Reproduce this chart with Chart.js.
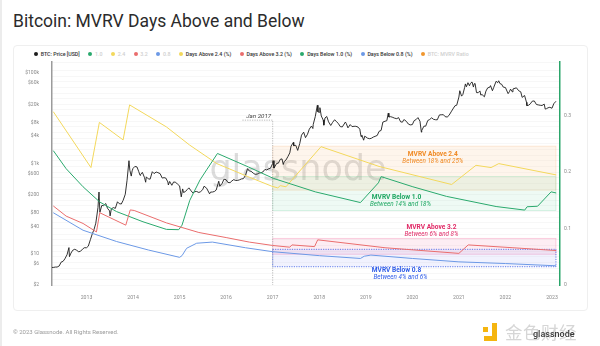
<!DOCTYPE html>
<html>
<head>
<meta charset="utf-8">
<script src="https://cdn.jsdelivr.net/npm/chart.js@4.4.0/dist/chart.umd.min.js"></script>
<style>
  body { margin: 0; width: 600px; height: 346px; background: #fff; position: relative; overflow: hidden; font-family: Roboto, sans-serif; }
  #edge { position: absolute; left: 0; top: 0; width: 2px; height: 346px; background: #ececec; }
  #title { position: absolute; left: 13px; top: 9px; font-size: 17.5px; line-height: 24px; color: #2b2b2b; white-space: nowrap; }
  #card { position: absolute; left: 13px; top: 45px; width: 575px; height: 266px; border: 1px solid #efefef; border-radius: 4px; box-sizing: border-box; }
  #legend { position: absolute; left: 34px; top: 49.5px; height: 8px; display: flex; align-items: center; font-size: 5.3px; font-weight: 500; line-height: 8px; white-space: nowrap; }
  #legend .item { display: flex; align-items: center; margin-right: 8.5px; }
  #legend .dot { width: 4px; height: 4px; border-radius: 50%; margin-right: 2.7px; }
  #chart { position: absolute; left: 0; top: 0; }
  #footer { position: absolute; left: 13px; top: 328px; font-size: 6px; line-height: 8px; color: #9a9a9a; white-space: nowrap; }
  #logo { position: absolute; left: 483px; top: 322px; width: 110px; height: 22px; }
  #logo .sq { position: absolute; background: #f5b50f; }
  #logo .cn { position: absolute; left: 22px; top: -1px; font-family: "Noto Sans CJK SC", sans-serif; font-size: 17.5px; line-height: 22px; color: #d6d6d6; letter-spacing: 0.5px; }
  #logo .gn { position: absolute; left: 50px; top: 7px; font-size: 9px; line-height: 10px; font-weight: 500; color: #3a3a3a; }
</style>
</head>
<body>
<div id="edge"></div>
<div id="title">Bitcoin: MVRV Days Above and Below</div>
<div id="card"></div>
<div id="legend"></div>
<canvas id="chart" width="600" height="346"></canvas>
<div id="footer">© 2023 Glassnode. All Rights Reserved.</div>
<div id="logo">
  <div class="sq" style="left:0;top:5px;width:5px;height:5px"></div>
  <div class="sq" style="left:9px;top:1px;width:5px;height:18px"></div>
  <div class="sq" style="left:1px;top:14px;width:13px;height:5px"></div>
  <div class="cn">金色财经</div>
  <div class="gn">glassnode</div>
</div>
<script>
// ---- data ----
const yearTicks = [2013, 2014, 2015, 2016, 2017, 2018, 2019, 2020, 2021, 2022, 2023];
const priceTicks = [2, 6, 10, 40, 80, 200, 600, 1000, 4000, 8000, 20000, 60000, 100000];
const priceTickLabels = ['$2', '$6', '$10', '$40', '$80', '$200', '$600', '$1k', '$4k', '$8k', '$20k', '$60k', '$100k'];
const ratioTickLabels = ['0', '0.1', '0.2', '0.3'];

const btcDates = [
  '2012-04-01','2012-04-15','2012-05-01','2012-05-15','2012-06-01','2012-06-15','2012-07-01','2012-07-15','2012-08-01','2012-08-16','2012-08-20','2012-09-01','2012-09-15','2012-10-01','2012-10-15','2012-11-01','2012-11-15','2012-12-01','2012-12-15',
  '2013-01-01','2013-01-15','2013-02-01','2013-02-15','2013-03-01','2013-03-15','2013-04-01','2013-04-09','2013-04-16','2013-05-01','2013-05-15','2013-06-01','2013-06-15','2013-07-01','2013-07-05','2013-07-15','2013-08-01','2013-08-15','2013-09-01','2013-09-15','2013-10-01','2013-10-15','2013-11-01','2013-11-15','2013-11-30','2013-12-07','2013-12-18','2013-12-25',
  '2014-01-01','2014-01-15','2014-02-01','2014-02-15','2014-02-25','2014-03-01','2014-03-15','2014-04-01','2014-04-10','2014-04-15','2014-05-01','2014-05-15','2014-06-01','2014-06-15','2014-07-01','2014-07-15','2014-08-01','2014-08-18','2014-09-01','2014-09-15','2014-10-01','2014-10-05','2014-10-15','2014-11-01','2014-11-15','2014-12-01','2014-12-15',
  '2015-01-01','2015-01-14','2015-01-25','2015-02-01','2015-02-15','2015-03-01','2015-03-15','2015-04-01','2015-04-15','2015-05-01','2015-05-15','2015-06-01','2015-06-15','2015-07-01','2015-07-12','2015-08-01','2015-08-24','2015-09-01','2015-09-15','2015-10-01','2015-10-15','2015-11-04','2015-11-12','2015-12-01','2015-12-15',
  '2016-01-01','2016-01-15','2016-02-01','2016-02-15','2016-03-01','2016-03-15','2016-04-01','2016-04-15','2016-05-01','2016-05-15','2016-06-01','2016-06-17','2016-07-01','2016-07-15','2016-08-01','2016-08-15','2016-09-01','2016-09-15','2016-10-01','2016-10-15','2016-11-01','2016-11-15','2016-12-01','2016-12-15',
  '2017-01-01','2017-01-04','2017-01-11','2017-01-15','2017-02-01','2017-02-15','2017-03-01','2017-03-15','2017-03-25','2017-04-01','2017-04-15','2017-05-01','2017-05-15','2017-05-25','2017-06-01','2017-06-12','2017-06-15','2017-07-01','2017-07-16','2017-08-01','2017-08-15','2017-09-01','2017-09-15','2017-10-01','2017-10-15','2017-11-01','2017-11-12','2017-11-15','2017-12-01','2017-12-17','2017-12-22',
  '2018-01-01','2018-01-06','2018-01-17','2018-02-01','2018-02-06','2018-02-15','2018-03-01','2018-03-15','2018-04-01','2018-04-15','2018-05-01','2018-05-15','2018-06-01','2018-06-15','2018-07-01','2018-07-25','2018-08-01','2018-08-14','2018-09-01','2018-09-15','2018-10-01','2018-10-15','2018-11-01','2018-11-15','2018-11-25','2018-12-01','2018-12-15','2018-12-24',
  '2019-01-01','2019-01-15','2019-02-01','2019-02-15','2019-03-01','2019-03-15','2019-04-01','2019-04-15','2019-05-01','2019-05-15','2019-06-01','2019-06-15','2019-06-26','2019-07-01','2019-07-15','2019-08-01','2019-08-15','2019-09-01','2019-09-15','2019-10-01','2019-10-15','2019-10-26','2019-11-01','2019-11-15','2019-12-01','2019-12-15',
  '2020-01-01','2020-01-15','2020-02-01','2020-02-14','2020-03-01','2020-03-12','2020-03-15','2020-04-01','2020-04-15','2020-05-01','2020-05-15','2020-06-01','2020-06-15','2020-07-01','2020-07-15','2020-08-01','2020-08-15','2020-09-01','2020-09-15','2020-10-01','2020-10-15','2020-11-01','2020-11-15','2020-12-01','2020-12-15',
  '2021-01-01','2021-01-08','2021-01-22','2021-02-01','2021-02-15','2021-02-21','2021-03-01','2021-03-13','2021-03-25','2021-04-01','2021-04-14','2021-04-25','2021-05-01','2021-05-08','2021-05-19','2021-06-01','2021-06-15','2021-06-22','2021-07-01','2021-07-20','2021-08-01','2021-08-15','2021-09-01','2021-09-06','2021-09-21','2021-10-01','2021-10-20','2021-11-01','2021-11-09','2021-11-20','2021-12-01','2021-12-15',
  '2022-01-01','2022-01-22','2022-02-01','2022-02-10','2022-02-24','2022-03-01','2022-03-28','2022-04-15','2022-05-01','2022-05-12','2022-05-31','2022-06-15','2022-06-18','2022-07-01','2022-07-15','2022-07-30','2022-08-15','2022-09-01','2022-09-15','2022-10-01','2022-10-15','2022-11-01','2022-11-09','2022-11-20','2022-12-01','2022-12-15',
  '2023-01-01','2023-01-15','2023-02-01'
];
const btcPrices = [
  4.9,4.9,5.0,5.0,5.3,6.4,6.7,7.6,9.4,13.5,8.5,10.2,11.8,12.4,11.8,10.9,11.2,12.5,13.4,
  13.4,14.5,20.4,27,34,47,104,230,82,116,115,128,100,88,68,98,104,100,140,127,125,150,205,420,1140,700,520,680,
  770,850,830,650,540,560,630,480,380,500,450,445,650,590,640,620,590,470,480,470,385,330,395,325,385,380,345,
  315,180,270,225,235,260,285,245,220,235,237,225,235,260,310,280,210,230,230,237,255,400,310,360,445,
  430,375,372,405,435,415,417,430,450,455,535,760,675,665,605,570,575,608,615,640,730,710,755,780,
  995,1140,780,820,990,1010,1220,1250,940,1090,1180,1420,1700,2400,2400,2900,2450,2500,1930,2730,4200,4900,3700,4400,5700,6700,5900,7300,10900,19300,13800,
  13500,17100,11200,9100,7000,10100,10900,8300,6900,8000,9200,8500,7500,6500,6400,8200,7600,6100,7200,6500,6600,6600,6350,5700,3900,4200,3250,4000,
  3850,3600,3500,3600,3820,3950,4150,5100,5350,8200,8550,8800,12900,10600,10800,10400,10000,9750,10300,8300,8150,9250,9150,8500,7400,7100,
  7200,8800,9400,10300,8550,4900,5350,6650,6650,8850,9300,10200,9450,9230,9200,11800,11900,11950,10800,10600,11500,13800,16000,18800,19400,
  29400,40600,30800,33500,47900,57500,49600,61200,52300,58800,63500,49000,57800,58800,37000,36700,40200,32500,33500,29800,39900,47000,48800,52700,40600,48100,65900,61000,67500,58000,57000,48900,
  47700,35000,38700,44000,38300,44400,47100,40500,38400,28900,31800,22500,19000,19300,20800,23800,24100,20100,19700,19300,19100,20500,15900,16300,17000,17400,
  16600,20900,23700
];

const above24Dates = ['2012-04-15','2013-02-05','2013-04-12','2013-10-15','2013-12-05','2014-09-20','2015-03-20','2015-10-20','2016-06-20','2016-12-25','2017-02-10','2017-03-01','2017-04-15','2018-01-15','2019-04-15','2020-11-05','2021-05-15','2021-09-10','2021-11-10','2023-02-03'];
const above24Values = [0.307, 0.208, 0.288, 0.257, 0.319, 0.280, 0.248, 0.215, 0.192, 0.175, 0.172, 0.176, 0.174, 0.245, 0.210, 0.178, 0.212, 0.208, 0.215, 0.195];

const above32Dates = ['2012-04-15','2012-07-25','2012-12-05','2013-03-20','2013-04-15','2013-11-05','2013-12-10','2014-01-10','2014-09-20','2015-06-01','2016-01-01','2016-07-01','2017-01-01','2017-05-15','2017-06-01','2017-11-25','2017-12-20','2019-06-01','2021-01-01','2021-03-15','2022-03-01','2023-02-03'];
const above32Values = [0.140, 0.122, 0.109, 0.094, 0.128, 0.106, 0.133, 0.132, 0.110, 0.093, 0.084, 0.076, 0.070, 0.067, 0.071, 0.068, 0.080, 0.066, 0.056, 0.071, 0.066, 0.061];

const below10Dates = ['2012-04-15','2012-07-25','2012-12-05','2013-04-15','2013-08-25','2014-03-20','2014-09-20','2014-12-25','2015-01-20','2015-03-22','2015-06-10','2015-08-01','2015-10-25','2016-06-25','2017-01-05','2017-12-01','2018-11-20','2019-04-10','2019-05-01','2020-01-05','2020-09-25','2021-10-20','2022-06-01','2022-06-20','2022-09-10','2022-12-25','2023-02-03'];
const below10Values = [0.238, 0.206, 0.174, 0.147, 0.130, 0.112, 0.0985, 0.098, 0.106, 0.150, 0.186, 0.204, 0.233, 0.209, 0.189, 0.165, 0.146, 0.181, 0.192, 0.174, 0.157, 0.139, 0.1327, 0.1386, 0.1395, 0.165, 0.163];

const below08Dates = ['2012-04-15','2012-12-05','2013-08-25','2014-05-01','2015-01-01','2015-01-20','2015-02-25','2015-05-15','2015-09-15','2016-06-01','2017-01-01','2018-01-01','2018-11-20','2018-12-20','2019-02-10','2020-01-01','2021-01-01','2022-01-01','2023-02-03'];
const below08Values = [0.128, 0.097, 0.077, 0.062, 0.049, 0.052, 0.065, 0.074, 0.076, 0.066, 0.059, 0.052, 0.047, 0.051, 0.053, 0.047, 0.041, 0.038, 0.034];

// shaded ranges from Jan 2017 (share of days, right axis)
const bandNames = ['MVRV Above 2.4', 'MVRV Below 1.0', 'MVRV Above 3.2', 'MVRV Below 0.8'];
const bandRanges = ['Between 18% and 25%', 'Between 14% and 18%', 'Between 6% and 8%', 'Between 4% and 6%'];
const bandLow = [0.168, 0.132, 0.0545, 0.0324];
const bandHigh = [0.246, 0.192, 0.0826, 0.0632];
const bandFrom = '2017-01-01';
const bandTo = '2023-02-01';

// ---- styling ----
const C = { btc: '#1c1c1c', yellow: '#f3d85c', red: '#ea6d6d', green: '#2aa96d', blue: '#6c99e6', orange: '#f0962e' };
const bandStyle = [
  { fill: 'rgba(250,175,110,0.13)', edge: 'rgba(250,175,110,0.30)', text: '#f08a24', dash: [] },
  { fill: 'rgba(70,195,130,0.09)', edge: 'rgba(70,195,130,0.25)', text: '#1fa763', dash: [] },
  { fill: 'rgba(240,90,150,0.11)', edge: 'rgba(240,90,150,0.32)', text: '#e02a66', dash: [] },
  { fill: 'rgba(95,115,240,0.09)', edge: '#3b5de6', text: '#2d5be8', dash: [1.2, 1.2] }
];
// label anchor (decimal year, ratio) for each band's caption
const labelX = [2020.44, 2019.66, 2020.41, 2019.66];
const labelY = [0.232, 0.1545, 0.1014, 0.0265];

const legendItems = [
  ['BTC: Price [USD]', C.btc, false],
  ['1.0', C.green, true],
  ['2.4', C.yellow, true],
  ['3.2', C.red, true],
  ['0.8', C.blue, true],
  ['Days Above 2.4 (%)', C.yellow, false],
  ['Days Above 3.2 (%)', C.red, false],
  ['Days Below 1.0 (%)', C.green, false],
  ['Days Below 0.8 (%)', C.blue, false],
  ['BTC: MVRV Ratio', C.orange, true]
];

function toYear(s) {
  const d = new Date(s + 'T00:00:00Z');
  const y = d.getUTCFullYear();
  const a = Date.UTC(y, 0, 1), b = Date.UTC(y + 1, 0, 1);
  return y + (d.getTime() - a) / (b - a);
}
function pts(dates, vals) { return dates.map((d, i) => ({ x: toYear(d), y: vals[i] })); }

// html legend
const lg = document.getElementById('legend');
legendItems.forEach(([name, col, faded]) => {
  const it = document.createElement('div');
  it.className = 'item';
  it.innerHTML = '<span class="dot" style="background:' + col + '"></span><span style="color:' + (faded ? '#cfcfcf' : '#333') + '">' + name + '</span>';
  lg.appendChild(it);
});

const overlay = {
  id: 'overlay',
  beforeDatasetsDraw(chart) {
    const { ctx, chartArea: a, scales } = chart;
    const x = scales.x, r = scales.yRatio;
    ctx.save();
    // watermark
    ctx.font = '500 35px "DejaVu Sans"';
    ctx.fillStyle = 'rgba(120,120,120,0.26)';
    ctx.textAlign = 'center';
    ctx.textBaseline = 'alphabetic';
    ctx.fillText('glassnode', (a.left + a.right) / 2 - 8, a.top + 118);
    // bands
    const x0 = x.getPixelForValue(toYear(bandFrom)), x1 = x.getPixelForValue(toYear(bandTo));
    bandLow.forEach((lo, i) => {
      const st = bandStyle[i];
      const yTop = r.getPixelForValue(bandHigh[i]), yBot = r.getPixelForValue(lo);
      ctx.fillStyle = st.fill;
      ctx.fillRect(x0, yTop, x1 - x0, yBot - yTop);
      ctx.strokeStyle = st.edge;
      ctx.lineWidth = 0.8;
      ctx.setLineDash(st.dash);
      ctx.strokeRect(x0, yTop, x1 - x0, yBot - yTop);
    });
    // Jan 2017 marker
    const xm = x.getPixelForValue(2017), ym = r.getPixelForValue(0.292);
    const xs = x.getPixelForValue(2016.35);
    ctx.strokeStyle = '#a8a8a8';
    ctx.lineWidth = 0.8;
    ctx.setLineDash([1.2, 1.2]);
    ctx.beginPath();
    ctx.moveTo(xs, ym); ctx.lineTo(xm, ym); ctx.lineTo(xm, a.bottom);
    ctx.stroke();
    ctx.setLineDash([]);
    ctx.font = 'italic 6.2px Roboto';
    ctx.fillStyle = '#444';
    ctx.textAlign = 'right';
    ctx.textBaseline = 'bottom';
    ctx.fillText('Jan 2017', xm - 1.5, ym - 1);
    ctx.restore();
  },
  afterDatasetsDraw(chart) {
    const { ctx, scales } = chart;
    ctx.save();
    ctx.textAlign = 'center';
    ctx.textBaseline = 'middle';
    bandNames.forEach((name, i) => {
      const px = scales.x.getPixelForValue(labelX[i]);
      const py = scales.yRatio.getPixelForValue(labelY[i]);
      ctx.fillStyle = bandStyle[i].text;
      ctx.font = 'bold 6.6px Roboto';
      ctx.fillText(name, px, py);
      ctx.font = 'italic 6.3px Roboto';
      ctx.fillText(bandRanges[i], px + (i % 2 ? 4 : 0), py + 7);
    });
    ctx.restore();
  }
};

const lineDs = (label, data, color, axis, w) => ({
  label, data, borderColor: color, backgroundColor: color, borderWidth: w,
  yAxisID: axis, pointRadius: 0, tension: 0, fill: false
});

new Chart(document.getElementById('chart'), {
  type: 'line',
  data: {
    datasets: [
      lineDs('Days Below 0.8 (%)', pts(below08Dates, below08Values), C.blue, 'yRatio', 1),
      lineDs('Days Above 3.2 (%)', pts(above32Dates, above32Values), C.red, 'yRatio', 1),
      lineDs('Days Below 1.0 (%)', pts(below10Dates, below10Values), C.green, 'yRatio', 1),
      lineDs('Days Above 2.4 (%)', pts(above24Dates, above24Values), C.yellow, 'yRatio', 1),
      lineDs('BTC: Price [USD]', pts(btcDates, btcPrices), C.btc, 'yPrice', 0.9)
    ]
  },
  options: {
    responsive: false,
    animation: false,
    layout: { padding: { left: 13, top: 62, right: 12, bottom: 35 } },
    plugins: { legend: { display: false }, tooltip: { enabled: false } },
    scales: {
      x: {
        type: 'linear', min: 2012.259, max: 2023.172,
        afterFit(s) { s.height = 26; },
        afterBuildTicks(s) { s.ticks = yearTicks.map(v => ({ value: v })); },
        grid: { display: false },
        border: { display: false },
        ticks: { autoSkip: false, maxRotation: 0, padding: 2, color: '#8a8a8a', font: { family: 'Roboto', size: 5.2 }, callback: v => String(v) }
      },
      yPrice: {
        type: 'logarithmic', position: 'left', min: 2, max: 176000,
        afterFit(s) { s.width = 39; },
        afterBuildTicks(s) { s.ticks = priceTicks.map(v => ({ value: v })); },
        grid: { display: false },
        border: { display: true, color: '#9b9b9b', width: 1.5 },
        ticks: { autoSkip: false, padding: 5, color: '#8a8a8a', font: { family: 'Roboto', size: 5 },
          callback: v => { const k = priceTicks.indexOf(v); return k < 0 ? '' : priceTickLabels[k]; } }
      },
      yRatio: {
        type: 'linear', position: 'right', min: 0, max: 0.395,
        afterFit(s) { s.width = 28; },
        grid: { color: 'rgba(0,0,0,0.045)', drawTicks: false, lineWidth: 0.8 },
        border: { display: true, color: '#2aa56a', width: 1.5 },
        ticks: { stepSize: 0.01, maxTicksLimit: 100, autoSkip: false, padding: 4, color: '#8a8a8a', font: { family: 'Roboto', size: 5 },
          callback: v => {
            const t = v * 10;
            return Math.abs(t - Math.round(t)) < 1e-6 ? (ratioTickLabels[Math.round(t)] || '') : '';
          } }
      }
    }
  },
  plugins: [overlay]
});
</script>
</body>
</html>
